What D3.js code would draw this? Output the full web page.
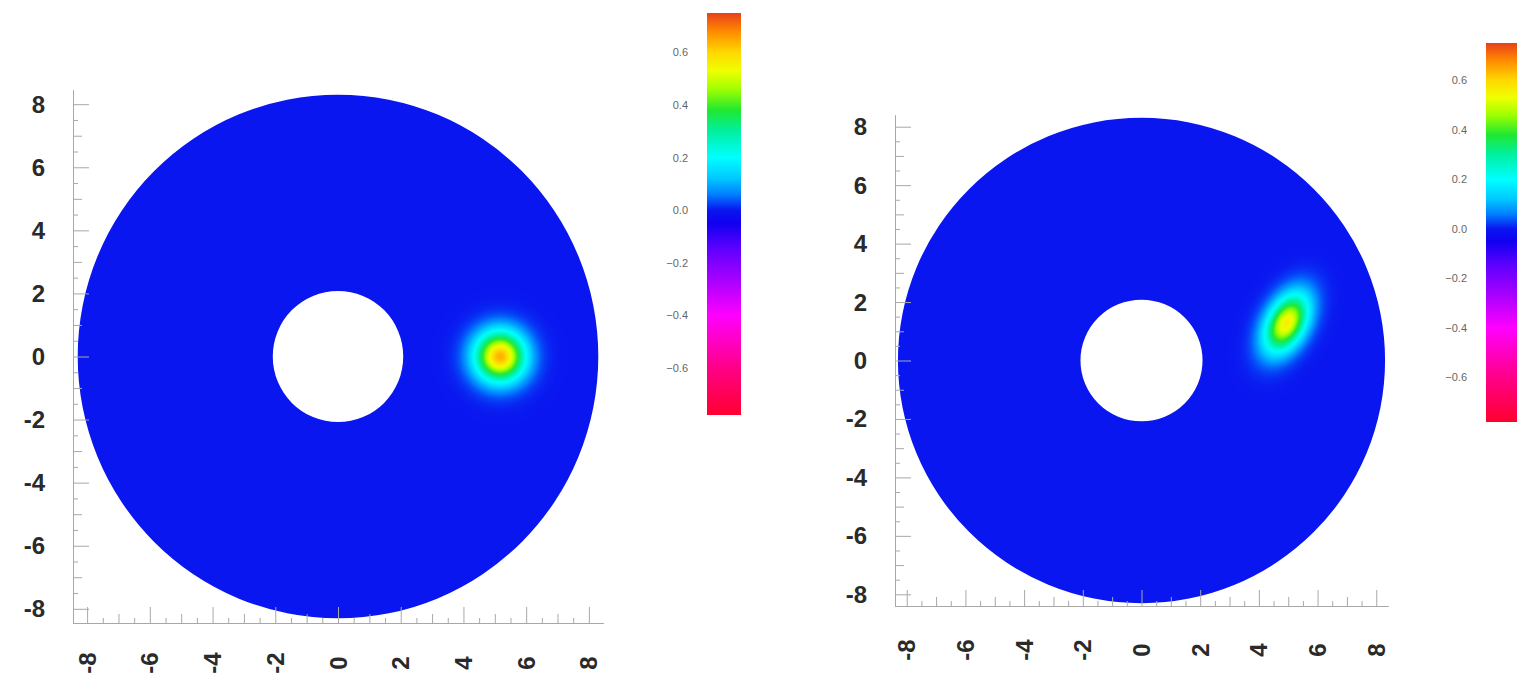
<!DOCTYPE html>
<html>
<head>
<meta charset="utf-8">
<script src="https://cdn.jsdelivr.net/npm/d3@7"></script>
<style>
  body { margin: 0; background: #fff; }
  svg { display: block; }
  .tick-label { font-family: "Liberation Sans", Arial, sans-serif; font-weight: 600; font-size: 24px; fill: #2a2a2a; }
  .bar-label { font-family: "Liberation Sans", Arial, sans-serif; font-size: 11px; fill: #666; }
</style>
</head>
<body>
<svg></svg>
<script>
// axis ticks of both panels
const axisTicks = [-8, -6, -4, -2, 0, 2, 4, 6, 8];
const minorTicks = [-8, -7.5, -7, -6.5, -6, -5.5, -5, -4.5, -4, -3.5, -3, -2.5, -2, -1.5, -1, -0.5, 0,
  0.5, 1, 1.5, 2, 2.5, 3, 3.5, 4, 4.5, 5, 5.5, 6, 6.5, 7, 7.5, 8];
const colorbarTicks = [-0.6, -0.4, -0.2, 0.0, 0.2, 0.4, 0.6];
const colorbarRange = [-0.78, 0.75];

// colour map
const colorStops = [-0.78, -0.6, -0.4, -0.28, -0.15, -0.05, 0.0, 0.06, 0.12, 0.2, 0.3, 0.38, 0.46, 0.53, 0.6, 0.68, 0.75];
const stopColors = ["#ff0030", "#ff0088", "#ff00ff", "#b000ff", "#6000ff", "#1000f0", "#0a16f0", "#0080ff", "#00c8ff",
  "#00ffff", "#00f0a0", "#20e830", "#a0ff00", "#f0ff00", "#ffd800", "#ff8a00", "#e8401a"];

// annulus domain (inner, outer radius) and the pulse in each panel
const annulusRadii = [2.08, 8.3];
const blobX = [5.17, 4.94];
const blobY = [0.0, 1.28];
const blobPeak = [0.64, 0.56];
const blobSigmaMajor = [0.55, 0.74];
const blobSigmaMinor = [0.55, 0.44];
const blobAngle = [0, 62];

const svgSize = { width: 1517, height: 686 };
const svg = d3.select("svg").attr("width", svgSize.width).attr("height", svgSize.height);

const panelLayout = [
  { x: [73, 603], y: [623, 90], dom: 8.45, bar: { x: 707, w: 34, y: [415, 13] }, labelGap: 40 },
  { x: [895, 1388], y: [606, 115], dom: 8.4, bar: { x: 1486, w: 31, y: [422, 43] }, labelGap: 44 }
];

const colorScale = d3.scaleLinear().domain(colorStops).range(stopColors).clamp(true);
const defs = svg.append("defs");

const ellipsePath = (cx, cy, rx, ry) =>
  `M${cx - rx},${cy}A${rx},${ry} 0 1,0 ${cx + rx},${cy}A${rx},${ry} 0 1,0 ${cx - rx},${cy}Z`;

panelLayout.forEach((p, i) => {
  const x = d3.scaleLinear().domain([-p.dom, p.dom]).range(p.x);
  const y = d3.scaleLinear().domain([-p.dom, p.dom]).range(p.y);
  const kx = x(1) - x(0), ky = y(0) - y(1);
  const g = svg.append("g");

  // annulus filled with the zero level colour
  const cx = x(0), cy = y(0);
  g.append("path")
    .attr("d", ellipsePath(cx, cy, annulusRadii[1] * kx, annulusRadii[1] * ky) +
      ellipsePath(cx, cy, annulusRadii[0] * kx, annulusRadii[0] * ky))
    .attr("fill-rule", "evenodd")
    .attr("fill", colorScale(0));

  // gaussian pulse, fading out to the zero colour at 4 sigma
  const grad = defs.append("radialGradient").attr("id", `blob${i}`);
  grad.selectAll("stop").data(d3.range(0, 4.01, 0.1)).enter().append("stop")
    .attr("offset", t => t / 4)
    .attr("stop-color", t => t > 3.95 ? colorScale(0) : colorScale(blobPeak[i] * Math.exp(-t * t / 2)));
  const bx = x(blobX[i]), by = y(blobY[i]);
  g.append("ellipse")
    .attr("cx", bx).attr("cy", by)
    .attr("rx", 4 * blobSigmaMajor[i] * kx)
    .attr("ry", 4 * blobSigmaMinor[i] * ky)
    .attr("transform", `rotate(${-blobAngle[i]},${bx},${by})`)
    .attr("fill", `url(#blob${i})`);

  // axes, ticks pointing inward
  const tickSize = d => axisTicks.includes(d) ? 16 : (Number.isInteger(d) ? 9 : 5);
  const styleAxis = sel => {
    sel.selectAll("path,line").attr("stroke", "#a8a8a8").attr("stroke-width", 1);
    sel.selectAll("text").remove();
  };
  [16, 9, 5].forEach(len => {
    const vals = minorTicks.filter(d => tickSize(d) === len);
    g.append("g").attr("transform", `translate(${p.x[0]},0)`)
      .call(d3.axisLeft(y).tickValues(vals).tickSize(-len).tickSizeOuter(0)).call(styleAxis);
    g.append("g").attr("transform", `translate(0,${p.y[0]})`)
      .call(d3.axisBottom(x).tickValues(vals).tickSize(-len).tickSizeOuter(0)).call(styleAxis);
  });

  g.selectAll(".ylab").data(axisTicks).enter().append("text")
    .attr("class", "tick-label")
    .attr("x", p.x[0] - 28).attr("y", d => y(d))
    .attr("text-anchor", "end").attr("dominant-baseline", "central")
    .text(d => d);
  g.selectAll(".xlab").data(axisTicks).enter().append("text")
    .attr("class", "tick-label")
    .attr("transform", d => `translate(${x(d)},${p.y[0] + p.labelGap}) rotate(-90)`)
    .attr("text-anchor", "middle").attr("dominant-baseline", "central")
    .text(d => d);

  // colour bar
  const c = d3.scaleLinear().domain(colorbarRange).range(p.bar.y);
  const lg = defs.append("linearGradient").attr("id", `bar${i}`)
    .attr("x1", 0).attr("x2", 0).attr("y1", 1).attr("y2", 0);
  lg.selectAll("stop").data(colorStops).enter().append("stop")
    .attr("offset", d => (d - colorbarRange[0]) / (colorbarRange[1] - colorbarRange[0]))
    .attr("stop-color", (d, j) => stopColors[j]);
  g.append("rect")
    .attr("x", p.bar.x).attr("y", c(colorbarRange[1]))
    .attr("width", p.bar.w).attr("height", c(colorbarRange[0]) - c(colorbarRange[1]))
    .attr("fill", `url(#bar${i})`);
  g.selectAll(".blab").data(colorbarTicks).enter().append("text")
    .attr("class", "bar-label")
    .attr("x", p.bar.x - 19).attr("y", d => c(d))
    .attr("text-anchor", "end").attr("dominant-baseline", "central")
    .text(d => d3.format(".1f")(d));
});
</script>
</body>
</html>
